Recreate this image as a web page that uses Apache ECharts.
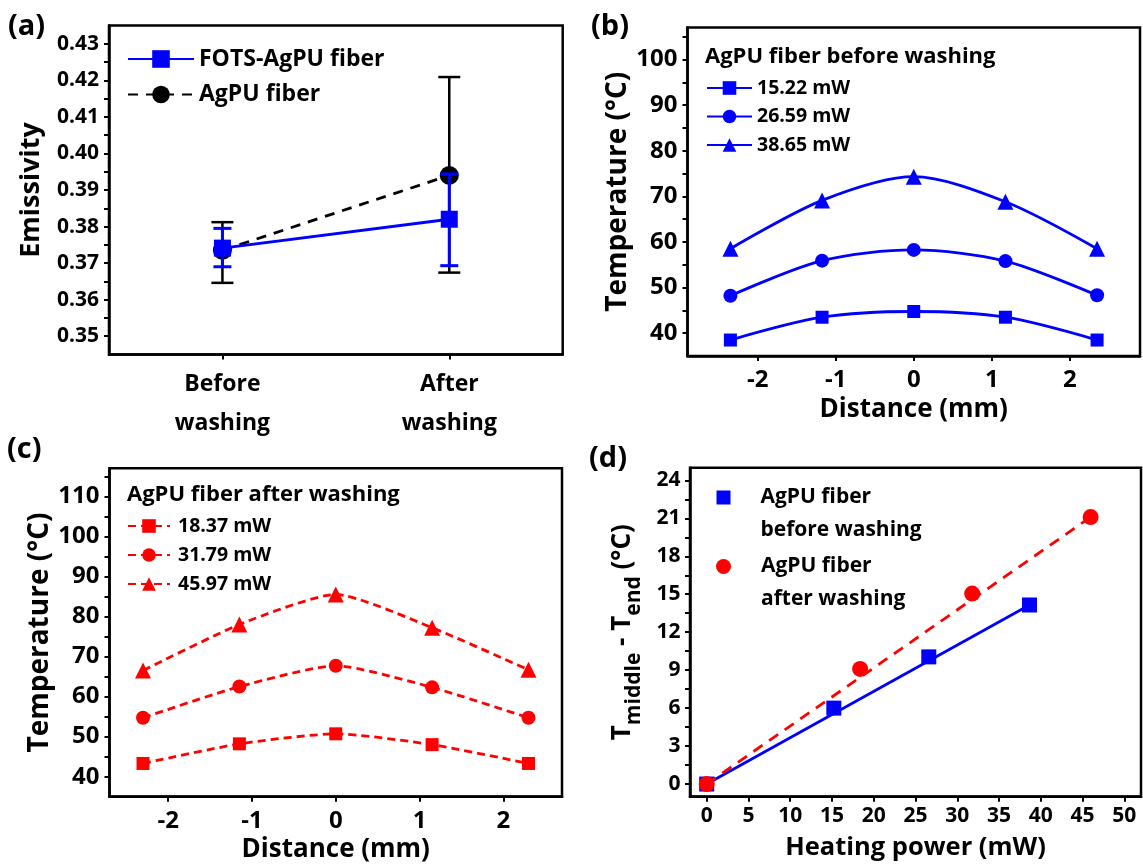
<!DOCTYPE html>
<html>
<head>
<meta charset="utf-8">
<script src="https://cdn.jsdelivr.net/npm/echarts@6/dist/echarts.min.js"></script>
<style>
  html, body { margin: 0; padding: 0; background: #fff; }
  #chart { width: 1143px; height: 865px; }
</style>
</head>
<body>
<div id="chart"></div>
<script>
// (a) emissivity before / after washing
const aCategories = ['Before\nwashing', 'After\nwashing'];
const aFotsMean = [0.3741, 0.3820];
const aFotsLow = [0.3690, 0.3693];
const aFotsHigh = [0.3795, 0.3944];
const aAgpuMean = [0.3735, 0.3940];
const aAgpuLow = [0.3646, 0.3674];
const aAgpuHigh = [0.3812, 0.4209];
const aYTicks = [0.35, 0.36, 0.37, 0.38, 0.39, 0.40, 0.41, 0.42, 0.43];

// (b) temperature profile before washing
const bDistance = [-2.35, -1.175, 0, 1.175, 2.35];
const bPowers = ['15.22 mW', '26.59 mW', '38.65 mW'];
const bTemp1522 = [38.5, 43.5, 44.75, 43.5, 38.5];
const bTemp2659 = [48.2, 55.9, 58.25, 55.8, 48.3];
const bTemp3865 = [58.5, 69.1, 74.3, 68.8, 58.5];
const bYTicks = [40, 50, 60, 70, 80, 90, 100];

// (c) temperature profile after washing
const cDistance = [-2.3, -1.15, 0, 1.15, 2.3];
const cPowers = ['18.37 mW', '31.79 mW', '45.97 mW'];
const cTemp1837 = [43.3, 48.2, 50.7, 48.0, 43.3];
const cTemp3179 = [54.7, 62.5, 67.7, 62.3, 54.7];
const cTemp4597 = [66.5, 78.0, 85.5, 77.2, 66.7];
const cYTicks = [40, 50, 60, 70, 80, 90, 100, 110];

const distTicks = [-2, -1, 0, 1, 2];

// (d) middle-end difference vs heating power
const dPowerBefore = [0, 15.22, 26.59, 38.65];
const dDeltaBefore = [0, 6.0, 10.05, 14.15];
const dPowerAfter = [0, 18.37, 31.79, 45.97];
const dDeltaAfter = [0, 9.1, 15.05, 21.1];
const dFitBeforeX = [0, 38.65];
const dFitBeforeY = [0, 14.15];
const dFitAfterX = [0, 45.97];
const dFitAfterY = [0, 21.1];
const dXTicks = [0, 5, 10, 15, 20, 25, 30, 35, 40, 45, 50];
const dYTicks = [0, 3, 6, 9, 12, 15, 18, 21, 24];

const FONT = "'Open Sans', 'Noto Sans', sans-serif";
const BLUE = '#0000ff';
const RED = '#ff0000';

function txt(size, extra) {
    return Object.assign({ fontSize: size, fontWeight: 'bold', fontFamily: FONT, color: '#000' }, extra || {});
}

function midpoints(ticks) {
    const m = [];
    for (let i = 1; i < ticks.length; i++) m.push((ticks[i - 1] + ticks[i]) / 2);
    return m;
}

function pairs(xs, ys) {
    return xs.map((x, i) => [x, ys[i]]);
}

function valueAxis(o) {
    return {
        type: 'value', gridIndex: o.grid, min: o.min, max: o.max,
        name: o.name, nameLocation: 'middle', nameGap: o.nameGap, nameRotate: o.rotate || 0,
        nameTextStyle: txt(o.nameSize, o.rich ? { rich: o.rich } : {}),
        axisLine: { show: true, onZero: false, lineStyle: { color: '#000', width: 2.5 } },
        axisTick: { show: true, customValues: o.ticks.concat(o.minor || []), length: 5,
            lineStyle: { color: '#000', width: 2 } },
        axisLabel: Object.assign(txt(o.labelSize), { customValues: o.ticks, margin: o.margin,
            formatter: o.formatter || (v => String(v)) }),
        splitLine: { show: false }
    };
}

function errorBars(grid, low, high, color, cap, width, z) {
    return {
        type: 'custom', xAxisIndex: grid, yAxisIndex: grid, z: z, silent: true,
        data: low.map((l, i) => [i, l, high[i]]),
        encode: { x: 0, y: [1, 2] },
        renderItem(params, api) {
            const lo = api.coord([api.value(0), api.value(1)]);
            const hi = api.coord([api.value(0), api.value(2)]);
            const h = cap / 2;
            const style = { stroke: color, lineWidth: width };
            return { type: 'group', children: [
                { type: 'line', shape: { x1: lo[0], y1: lo[1], x2: hi[0], y2: hi[1] }, style },
                { type: 'line', shape: { x1: lo[0] - h, y1: lo[1], x2: lo[0] + h, y2: lo[1] }, style },
                { type: 'line', shape: { x1: hi[0] - h, y1: hi[1], x2: hi[0] + h, y2: hi[1] }, style }
            ] };
        }
    };
}

function profile(grid, name, xs, ys, symbol, size, color, dashed, smooth, z) {
    return {
        type: 'line', name, xAxisIndex: grid, yAxisIndex: grid, z,
        data: pairs(xs, ys), smooth,
        symbol, symbolSize: size, showSymbol: true,
        itemStyle: { color },
        lineStyle: { color, width: 2.8, type: dashed ? [8, 5] : 'solid' },
        emphasis: { disabled: true }
    };
}

const gridStyle = { show: true, borderColor: '#000', borderWidth: 2.5, containLabel: false };

const option = {
    animation: false,
    backgroundColor: '#fff',
    title: [
        { text: '(a)', left: 8, top: 12, padding: 0, textStyle: txt(29) },
        { text: '(b)', left: 591, top: 12, padding: 0, textStyle: txt(29) },
        { text: '(c)', left: 7, top: 435, padding: 0, textStyle: txt(29) },
        { text: '(d)', left: 589, top: 444, padding: 0, textStyle: txt(29) },
        { text: 'AgPU fiber before washing', left: 705, top: 46, padding: 0, textStyle: txt(22) },
        { text: 'AgPU fiber after washing', left: 127, top: 484, padding: 0, textStyle: txt(22) }
    ],
    grid: [
        Object.assign({ left: 109, top: 25.5, width: 453.7, height: 329 }, gridStyle),
        Object.assign({ left: 687.5, top: 27.5, width: 452.5, height: 328.5 }, gridStyle),
        Object.assign({ left: 109.5, top: 468.3, width: 452.5, height: 328.4 }, gridStyle),
        Object.assign({ left: 690, top: 467.7, width: 451, height: 329 }, gridStyle)
    ],
    xAxis: [
        {
            type: 'category', gridIndex: 0, data: aCategories, boundaryGap: true,
            axisLine: { show: true, lineStyle: { color: '#000', width: 2.5 } },
            axisTick: { show: true, alignWithLabel: true, length: 5, lineStyle: { color: '#000', width: 2 } },
            axisLabel: Object.assign(txt(23), { margin: 10, lineHeight: 39 }),
            splitLine: { show: false }
        },
        valueAxis({ grid: 1, min: -2.9, max: 2.9, ticks: distTicks, labelSize: 24, margin: 12,
            name: 'Distance (mm)', nameGap: 41, nameSize: 26 }),
        valueAxis({ grid: 2, min: -2.7, max: 2.7, ticks: distTicks, labelSize: 24, margin: 12,
            name: 'Distance (mm)', nameGap: 40, nameSize: 26 }),
        valueAxis({ grid: 3, min: -2, max: 52, ticks: dXTicks, labelSize: 21, margin: 9,
            name: 'Heating power (mW)', nameGap: 38, nameSize: 25.5 })
    ],
    yAxis: [
        valueAxis({ grid: 0, min: 0.345, max: 0.435, ticks: aYTicks, minor: midpoints(aYTicks),
            labelSize: 21, margin: 10, formatter: v => v.toFixed(2),
            name: 'Emissivity', nameGap: 64, nameSize: 27, rotate: 90 }),
        valueAxis({ grid: 1, min: 35, max: 107, ticks: bYTicks, minor: midpoints(bYTicks).concat([105]),
            labelSize: 24, margin: 10,
            name: 'Temperature (°C)', nameGap: 51, nameSize: 28, rotate: 90 }),
        valueAxis({ grid: 2, min: 35, max: 117, ticks: cYTicks, minor: midpoints(cYTicks).concat([115]),
            labelSize: 24, margin: 10,
            name: 'Temperature (°C)', nameGap: 55, nameSize: 28, rotate: 90 }),
        valueAxis({ grid: 3, min: -1, max: 25, ticks: dYTicks, minor: midpoints(dYTicks),
            labelSize: 21, margin: 9.5,
            name: '{t|T}{s|middle}{t| - T}{s|end}{t| (°C)}', nameGap: 45, nameSize: 26, rotate: 90,
            rich: {
                t: txt(26, { verticalAlign: 'bottom', padding: [0, 0, 9, 0] }),
                s: txt(21, { verticalAlign: 'bottom' })
            } })
    ],
    legend: [
        {
            data: ['FOTS-AgPU fiber', 'AgPU fiber'], orient: 'vertical', left: 127, top: 47.5, padding: 0,
            itemWidth: 66, itemHeight: 22, itemGap: 12.5, selectedMode: false,
            textStyle: txt(23)
        },
        {
            data: bPowers, orient: 'vertical', left: 706, top: 78, padding: 0,
            itemWidth: 45, itemHeight: 17, itemGap: 8.5, selectedMode: false,
            textStyle: txt(19.5)
        },
        {
            data: cPowers, orient: 'vertical', left: 127, top: 516, padding: 0,
            itemWidth: 42, itemHeight: 17, itemGap: 9, selectedMode: false,
            textStyle: txt(19.5, { padding: [0, 0, 0, 3] })
        },
        {
            data: ['AgPU fiber\nbefore washing'], left: 716.5, top: 448, padding: 0,
            itemWidth: 14, itemHeight: 14, selectedMode: false,
            formatter: n => '\n' + n,
            textStyle: txt(21, { lineHeight: 33, padding: [0, 0, 0, 25] })
        },
        {
            data: ['AgPU fiber\nafter washing'], left: 716, top: 517, padding: 0,
            itemWidth: 15, itemHeight: 15, selectedMode: false,
            formatter: n => '\n' + n,
            textStyle: txt(21, { lineHeight: 33, padding: [0, 0, 0, 25] })
        }
    ],
    series: [
        // (a)
        errorBars(0, aAgpuLow, aAgpuHigh, '#000', 22, 2.5, 2),
        {
            type: 'line', name: 'AgPU fiber', xAxisIndex: 0, yAxisIndex: 0, z: 3,
            data: aAgpuMean, symbol: 'circle', symbolSize: 19,
            itemStyle: { color: '#000' },
            lineStyle: { color: '#000', width: 2.8, type: [10, 8] },
            emphasis: { disabled: true }
        },
        {
            type: 'line', name: 'FOTS-AgPU fiber', xAxisIndex: 0, yAxisIndex: 0, z: 4,
            data: aFotsMean, symbol: 'rect', symbolSize: 17,
            itemStyle: { color: BLUE },
            lineStyle: { color: BLUE, width: 3 },
            emphasis: { disabled: true }
        },
        errorBars(0, aFotsLow, aFotsHigh, BLUE, 18, 3, 5),

        // (b)
        profile(1, bPowers[0], bDistance, bTemp1522, 'rect', 13, BLUE, false, 0.3, 3),
        profile(1, bPowers[1], bDistance, bTemp2659, 'circle', 14, BLUE, false, 0.3, 3),
        profile(1, bPowers[2], bDistance, bTemp3865, 'triangle', 16, BLUE, false, 0.3, 3),

        // (c)
        profile(2, cPowers[0], cDistance, cTemp1837, 'rect', 13, RED, true, 0.2, 3),
        profile(2, cPowers[1], cDistance, cTemp3179, 'circle', 14, RED, true, 0.2, 3),
        profile(2, cPowers[2], cDistance, cTemp4597, 'triangle', 16, RED, true, 0.2, 3),

        // (d)
        {
            type: 'line', xAxisIndex: 3, yAxisIndex: 3, z: 2, silent: true,
            data: pairs(dFitBeforeX, dFitBeforeY), symbol: 'none',
            lineStyle: { color: BLUE, width: 2.8 }
        },
        {
            type: 'scatter', name: 'AgPU fiber\nbefore washing', xAxisIndex: 3, yAxisIndex: 3, z: 3,
            data: pairs(dPowerBefore, dDeltaBefore), symbol: 'rect', symbolSize: 15,
            itemStyle: { color: BLUE, opacity: 1 }, emphasis: { disabled: true }
        },
        {
            type: 'line', xAxisIndex: 3, yAxisIndex: 3, z: 4, silent: true,
            data: pairs(dFitAfterX, dFitAfterY), symbol: 'none',
            lineStyle: { color: RED, width: 2.8, type: [11, 8] }
        },
        {
            type: 'scatter', name: 'AgPU fiber\nafter washing', xAxisIndex: 3, yAxisIndex: 3, z: 5,
            data: pairs(dPowerAfter, dDeltaAfter), symbol: 'circle', symbolSize: 16,
            itemStyle: { color: RED, opacity: 1 }, emphasis: { disabled: true }
        }
    ]
};

const chart = echarts.init(document.getElementById('chart'));
chart.setOption(option);
</script>
</body>
</html>
